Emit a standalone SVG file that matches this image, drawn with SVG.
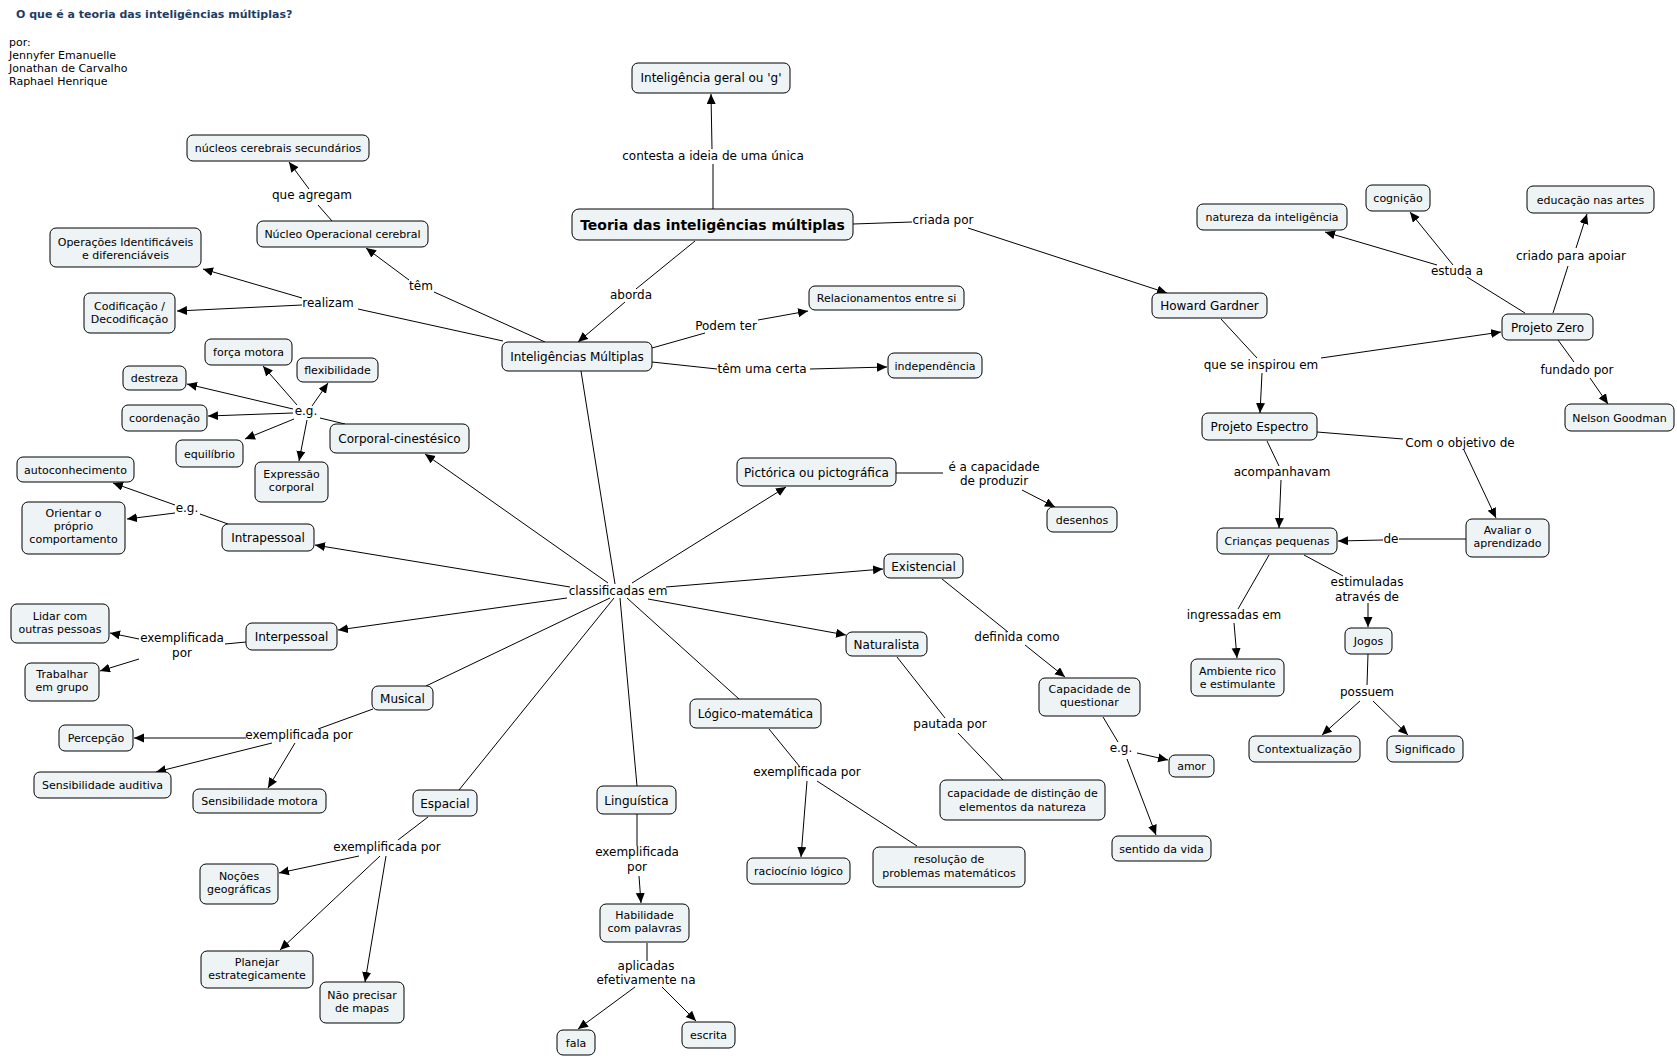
<svg xmlns="http://www.w3.org/2000/svg" width="1677" height="1057" viewBox="0 0 1677 1057">
<style>
  text { font-family: "DejaVu Sans", Verdana, sans-serif; fill: #000; }
  .n rect { fill: #eef3f5; stroke: #000; stroke-width: 1; }
  .n text { text-anchor: middle; }
  .s11 { font-size: 11px; }
  .s12 { font-size: 12px; }
  .lbl { font-size: 12px; text-anchor: middle; }
  #links line { stroke: #000; stroke-width: 1; fill: none; }
  #links line.a { marker-end: url(#arr); }
</style>
<defs>
  <marker id="arr" markerUnits="userSpaceOnUse" markerWidth="11" markerHeight="10" refX="10" refY="4.5" orient="auto">
    <path d="M0,0 L10,4.5 L0,9 z" fill="#000"/>
  </marker>
</defs>
<rect x="0" y="0" width="1677" height="1057" fill="#fff"/>

<g id="header">
  <text x="16" y="18" style="font-size:11px;font-weight:bold;fill:#1f3d63">O que é a teoria das inteligências múltiplas?</text>
  <text x="9" y="46" class="s11">por:</text>
  <text x="9" y="59" class="s11">Jennyfer Emanuelle</text>
  <text x="9" y="72" class="s11">Jonathan de Carvalho</text>
  <text x="9" y="85" class="s11">Raphael Henrique</text>
</g>

<g id="links">
  <!-- Teoria -->
  <line x1="713" y1="209" x2="713" y2="164"/>
  <line class="a" x1="712" y1="149" x2="711" y2="94"/>
  <line x1="853" y1="224" x2="912" y2="222"/>
  <line class="a" x1="968" y1="228" x2="1167" y2="293"/>
  <line x1="695" y1="241" x2="636" y2="289"/>
  <line class="a" x1="625" y1="302" x2="578" y2="342"/>
  <!-- IM -->
  <line x1="652" y1="348" x2="705" y2="333"/>
  <line class="a" x1="758" y1="320" x2="808" y2="311"/>
  <line x1="652" y1="362" x2="717" y2="369"/>
  <line class="a" x1="810" y1="369" x2="887" y2="367"/>
  <line x1="545" y1="342" x2="434" y2="292"/>
  <line class="a" x1="409" y1="280" x2="366" y2="248"/>
  <line x1="503" y1="341" x2="358" y2="309"/>
  <line class="a" x1="302" y1="298" x2="203" y2="269"/>
  <line class="a" x1="302" y1="305" x2="177" y2="311"/>
  <line x1="332" y1="221" x2="318" y2="205"/>
  <line class="a" x1="309" y1="189" x2="289" y2="162"/>
  <!-- classificadas em -->
  <line x1="581" y1="371" x2="615" y2="584"/>
  <line class="a" x1="608" y1="583" x2="425" y2="454"/>
  <line class="a" x1="570" y1="587" x2="315" y2="545"/>
  <line class="a" x1="567" y1="598" x2="338" y2="630"/>
  <line x1="610" y1="598" x2="426" y2="686"/>
  <line x1="614" y1="598" x2="459" y2="790"/>
  <line x1="620" y1="598" x2="637" y2="786"/>
  <line x1="627" y1="598" x2="739" y2="699"/>
  <line class="a" x1="648" y1="599" x2="846" y2="635"/>
  <line class="a" x1="666" y1="587" x2="883" y2="569"/>
  <line class="a" x1="632" y1="583" x2="786" y2="487"/>
  <!-- Corporal e.g. -->
  <line x1="345" y1="424" x2="320" y2="418"/>
  <line class="a" x1="297" y1="405" x2="263" y2="366"/>
  <line class="a" x1="312" y1="406" x2="328" y2="383"/>
  <line class="a" x1="293" y1="409" x2="187" y2="384"/>
  <line class="a" x1="293" y1="413" x2="208" y2="416"/>
  <line class="a" x1="294" y1="419" x2="245" y2="439"/>
  <line class="a" x1="307" y1="420" x2="299" y2="461"/>
  <!-- Intrapessoal -->
  <line x1="228" y1="524" x2="200" y2="514"/>
  <line class="a" x1="175" y1="505" x2="113" y2="483"/>
  <line class="a" x1="175" y1="513" x2="127" y2="519"/>
  <!-- Interpessoal -->
  <line x1="246" y1="642" x2="225" y2="644"/>
  <line class="a" x1="139" y1="639" x2="110" y2="633"/>
  <line class="a" x1="139" y1="659" x2="100" y2="671"/>
  <!-- Musical -->
  <line x1="373" y1="709" x2="318" y2="729"/>
  <line class="a" x1="246" y1="738" x2="134" y2="738"/>
  <line class="a" x1="272" y1="743" x2="156" y2="772"/>
  <line class="a" x1="295" y1="743" x2="268" y2="788"/>
  <!-- Espacial -->
  <line x1="428" y1="817" x2="398" y2="840"/>
  <line class="a" x1="359" y1="856" x2="279" y2="873"/>
  <line class="a" x1="380" y1="856" x2="280" y2="950"/>
  <line class="a" x1="386" y1="856" x2="365" y2="982"/>
  <!-- Linguistica -->
  <line x1="637" y1="814" x2="637" y2="846"/>
  <line class="a" x1="639" y1="876" x2="641" y2="903"/>
  <line x1="647" y1="943" x2="647" y2="961"/>
  <line class="a" x1="635" y1="987" x2="578" y2="1029"/>
  <line class="a" x1="662" y1="987" x2="696" y2="1021"/>
  <!-- Logico -->
  <line x1="769" y1="729" x2="800" y2="767"/>
  <line class="a" x1="807" y1="781" x2="801" y2="857"/>
  <line x1="817" y1="781" x2="917" y2="846"/>
  <!-- Naturalista -->
  <line x1="897" y1="657" x2="945" y2="718"/>
  <line x1="958" y1="733" x2="1003" y2="780"/>
  <!-- Existencial -->
  <line x1="942" y1="579" x2="1008" y2="632"/>
  <line class="a" x1="1025" y1="645" x2="1065" y2="677"/>
  <line x1="1103" y1="717" x2="1118" y2="742"/>
  <line class="a" x1="1137" y1="753" x2="1168" y2="760"/>
  <line class="a" x1="1127" y1="759" x2="1156" y2="835"/>
  <!-- Pictorica -->
  <line x1="896" y1="473" x2="943" y2="473"/>
  <line class="a" x1="1022" y1="490" x2="1055" y2="507"/>
  <!-- Howard Gardner -->
  <line x1="1221" y1="319" x2="1257" y2="358"/>
  <line class="a" x1="1321" y1="358" x2="1501" y2="332"/>
  <line class="a" x1="1262" y1="373" x2="1260" y2="413"/>
  <!-- Projeto Zero -->
  <line x1="1525" y1="313" x2="1467" y2="277"/>
  <line class="a" x1="1437" y1="265" x2="1325" y2="232"/>
  <line class="a" x1="1453" y1="265" x2="1410" y2="212"/>
  <line x1="1553" y1="313" x2="1568" y2="266"/>
  <line class="a" x1="1576" y1="248" x2="1587" y2="214"/>
  <line x1="1558" y1="340" x2="1574" y2="362"/>
  <line class="a" x1="1590" y1="378" x2="1608" y2="404"/>
  <!-- Projeto Espectro -->
  <line x1="1267" y1="441" x2="1279" y2="466"/>
  <line class="a" x1="1281" y1="480" x2="1279" y2="528"/>
  <line x1="1317" y1="432" x2="1403" y2="439"/>
  <line class="a" x1="1464" y1="450" x2="1496" y2="518"/>
  <line x1="1466" y1="539" x2="1399" y2="539"/>
  <line class="a" x1="1383" y1="540" x2="1338" y2="541"/>
  <line x1="1269" y1="555" x2="1238" y2="609"/>
  <line class="a" x1="1234" y1="623" x2="1237" y2="658"/>
  <line x1="1304" y1="555" x2="1343" y2="576"/>
  <line class="a" x1="1368" y1="603" x2="1368" y2="627"/>
  <line x1="1368" y1="654" x2="1367" y2="685"/>
  <line class="a" x1="1360" y1="701" x2="1322" y2="735"/>
  <line class="a" x1="1373" y1="701" x2="1408" y2="735"/>
</g>

<g id="labels">
  <text class="lbl" x="713" y="160">contesta a ideia de uma única</text>
  <text class="lbl" x="943" y="224">criada por</text>
  <text class="lbl" x="631" y="299">aborda</text>
  <text class="lbl" x="726" y="330">Podem ter</text>
  <text class="lbl" x="762" y="373">têm uma certa</text>
  <text class="lbl" x="421" y="290">têm</text>
  <text class="lbl" x="328" y="307">realizam</text>
  <text class="lbl" x="312" y="199">que agregam</text>
  <text class="lbl" x="618" y="595">classificadas em</text>
  <text class="lbl" x="306" y="415">e.g.</text>
  <text class="lbl" x="187" y="512">e.g.</text>
  <text class="lbl" x="182" y="642">exemplificada<tspan x="182" dy="15">por</tspan></text>
  <text class="lbl" x="299" y="739">exemplificada por</text>
  <text class="lbl" x="387" y="851">exemplificada por</text>
  <text class="lbl" x="637" y="856">exemplificada<tspan x="637" dy="15">por</tspan></text>
  <text class="lbl" x="646" y="970">aplicadas<tspan x="646" dy="14">efetivamente na</tspan></text>
  <text class="lbl" x="807" y="776">exemplificada por</text>
  <text class="lbl" x="950" y="728">pautada por</text>
  <text class="lbl" x="1017" y="641">definida como</text>
  <text class="lbl" x="1121" y="752">e.g.</text>
  <text class="lbl" x="994" y="471">é a capacidade<tspan x="994" dy="14">de produzir</tspan></text>
  <text class="lbl" x="1261" y="369">que se inspirou em</text>
  <text class="lbl" x="1457" y="275">estuda a</text>
  <text class="lbl" x="1571" y="260">criado para apoiar</text>
  <text class="lbl" x="1577" y="374">fundado por</text>
  <text class="lbl" x="1282" y="476">acompanhavam</text>
  <text class="lbl" x="1460" y="447">Com o objetivo de</text>
  <text class="lbl" x="1391" y="543">de</text>
  <text class="lbl" x="1234" y="619">ingressadas em</text>
  <text class="lbl" x="1367" y="586">estimuladas<tspan x="1367" dy="15">através de</tspan></text>
  <text class="lbl" x="1367" y="696">possuem</text>
</g>

<g id="inteligencia-g" class="n"><rect x="632" y="63" width="158" height="30" rx="6"/><text class="s12" x="711" y="82">Inteligência geral ou 'g'</text></g>
<g id="teoria" class="n"><rect x="572" y="209" width="281" height="31" rx="7"/><text x="712.5" y="229.5" style="font-size:14px;font-weight:bold">Teoria das inteligências múltiplas</text></g>
<g id="nucleos" class="n"><rect x="187" y="135" width="182" height="26" rx="6"/><text class="s11" x="278" y="152">núcleos cerebrais secundários</text></g>
<g id="nucleo-op" class="n"><rect x="257" y="221" width="171" height="26" rx="6"/><text class="s11" x="342.5" y="238">Núcleo Operacional cerebral</text></g>
<g id="operacoes" class="n"><rect x="50" y="228" width="151" height="39" rx="6"/><text class="s11" x="125.5" y="246">Operações Identificáveis<tspan x="125.5" dy="13">e diferenciáveis</tspan></text></g>
<g id="codificacao" class="n"><rect x="84" y="293" width="91" height="40" rx="6"/><text class="s11" x="129.5" y="310">Codificação /<tspan x="129.5" dy="13">Decodificação</tspan></text></g>
<g id="im" class="n"><rect x="502" y="342" width="150" height="29" rx="6"/><text class="s12" x="577" y="360.5">Inteligências Múltiplas</text></g>
<g id="relacionamentos" class="n"><rect x="809" y="286" width="155" height="24" rx="6"/><text class="s11" x="886.5" y="302">Relacionamentos entre si</text></g>
<g id="independencia" class="n"><rect x="888" y="353" width="94" height="25" rx="6"/><text class="s11" x="935" y="369.5">independência</text></g>
<g id="howard" class="n"><rect x="1152" y="293" width="115" height="25" rx="6"/><text class="s12" x="1209.5" y="310">Howard Gardner</text></g>
<g id="natureza" class="n"><rect x="1197" y="204" width="150" height="26" rx="6"/><text class="s11" x="1272" y="221">natureza da inteligência</text></g>
<g id="cognicao" class="n"><rect x="1366" y="185" width="64" height="26" rx="6"/><text class="s11" x="1398" y="202">cognição</text></g>
<g id="educacao" class="n"><rect x="1527" y="186" width="127" height="27" rx="6"/><text class="s11" x="1590.5" y="203.5">educação nas artes</text></g>
<g id="projeto-zero" class="n"><rect x="1502" y="314" width="91" height="26" rx="6"/><text class="s12" x="1547.5" y="331.5">Projeto Zero</text></g>
<g id="nelson" class="n"><rect x="1565" y="404" width="109" height="27" rx="6"/><text class="s11" x="1619.5" y="421.5">Nelson Goodman</text></g>
<g id="espectro" class="n"><rect x="1202" y="413" width="115" height="27" rx="6"/><text class="s12" x="1259.5" y="431">Projeto Espectro</text></g>
<g id="criancas" class="n"><rect x="1217" y="528" width="120" height="26" rx="6"/><text class="s11" x="1277" y="545">Crianças pequenas</text></g>
<g id="avaliar" class="n"><rect x="1466" y="519" width="83" height="38" rx="6"/><text class="s11" x="1507.5" y="534">Avaliar o<tspan x="1507.5" dy="13">aprendizado</tspan></text></g>
<g id="jogos" class="n"><rect x="1345" y="628" width="47" height="26" rx="6"/><text class="s11" x="1368.5" y="645">Jogos</text></g>
<g id="ambiente" class="n"><rect x="1191" y="659" width="93" height="37" rx="6"/><text class="s11" x="1237.5" y="675">Ambiente rico<tspan x="1237.5" dy="13">e estimulante</tspan></text></g>
<g id="contextualizacao" class="n"><rect x="1249" y="736" width="111" height="26" rx="6"/><text class="s11" x="1304.5" y="753">Contextualização</text></g>
<g id="significado" class="n"><rect x="1387" y="736" width="76" height="26" rx="6"/><text class="s11" x="1425" y="753">Significado</text></g>
<g id="pictorica" class="n"><rect x="737" y="458" width="159" height="28" rx="6"/><text class="s12" x="816.5" y="476.5">Pictórica ou pictográfica</text></g>
<g id="desenhos" class="n"><rect x="1047" y="507" width="70" height="25" rx="6"/><text class="s11" x="1082" y="523.5">desenhos</text></g>
<g id="existencial" class="n"><rect x="884" y="554" width="79" height="24" rx="6"/><text class="s12" x="923.5" y="570.5">Existencial</text></g>
<g id="naturalista" class="n"><rect x="846" y="632" width="81" height="24" rx="6"/><text class="s12" x="886.5" y="648.5">Naturalista</text></g>
<g id="capacidade-q" class="n"><rect x="1039" y="678" width="101" height="38" rx="6"/><text class="s11" x="1089.5" y="693">Capacidade de<tspan x="1089.5" dy="13">questionar</tspan></text></g>
<g id="amor" class="n"><rect x="1169" y="755" width="45" height="22" rx="6"/><text class="s11" x="1191.5" y="770">amor</text></g>
<g id="sentido" class="n"><rect x="1112" y="836" width="99" height="25" rx="6"/><text class="s11" x="1161.5" y="852.5">sentido da vida</text></g>
<g id="distincao" class="n"><rect x="940" y="780" width="165" height="40" rx="6"/><text class="s11" x="1022.5" y="797">capacidade de distinção de<tspan x="1022.5" dy="14">elementos da natureza</tspan></text></g>
<g id="logico" class="n"><rect x="690" y="699" width="131" height="29" rx="6"/><text class="s12" x="755.5" y="717.5">Lógico-matemática</text></g>
<g id="raciocinio" class="n"><rect x="747" y="858" width="103" height="26" rx="6"/><text class="s11" x="798.5" y="875">raciocínio lógico</text></g>
<g id="resolucao" class="n"><rect x="873" y="847" width="152" height="40" rx="6"/><text class="s11" x="949" y="863">resolução de<tspan x="949" dy="14">problemas matemáticos</tspan></text></g>
<g id="linguistica" class="n"><rect x="597" y="786" width="79" height="28" rx="6"/><text class="s12" x="636.5" y="804.5">Linguística</text></g>
<g id="habilidade" class="n"><rect x="600" y="904" width="89" height="38" rx="6"/><text class="s11" x="644.5" y="919">Habilidade<tspan x="644.5" dy="13">com palavras</tspan></text></g>
<g id="fala" class="n"><rect x="557" y="1030" width="38" height="25" rx="6"/><text class="s11" x="576" y="1046.5">fala</text></g>
<g id="escrita" class="n"><rect x="682" y="1022" width="53" height="26" rx="6"/><text class="s11" x="708.5" y="1039">escrita</text></g>
<g id="corporal" class="n"><rect x="330" y="424" width="139" height="29" rx="6"/><text class="s12" x="399.5" y="443">Corporal-cinestésico</text></g>
<g id="forca" class="n"><rect x="205" y="339" width="87" height="26" rx="6"/><text class="s11" x="248.5" y="356">força motora</text></g>
<g id="flexibilidade" class="n"><rect x="297" y="358" width="81" height="24" rx="6"/><text class="s11" x="337.5" y="374">flexibilidade</text></g>
<g id="destreza" class="n"><rect x="123" y="366" width="63" height="24" rx="6"/><text class="s11" x="154.5" y="382">destreza</text></g>
<g id="coordenacao" class="n"><rect x="122" y="405" width="85" height="26" rx="6"/><text class="s11" x="164.5" y="422">coordenação</text></g>
<g id="equilibrio" class="n"><rect x="176" y="440" width="67" height="27" rx="6"/><text class="s11" x="209.5" y="457.5">equilíbrio</text></g>
<g id="expressao" class="n"><rect x="255" y="462" width="73" height="40" rx="6"/><text class="s11" x="291.5" y="478">Expressão<tspan x="291.5" dy="13">corporal</tspan></text></g>
<g id="autoconhecimento" class="n"><rect x="17" y="457" width="117" height="25" rx="6"/><text class="s11" x="75.5" y="473.5">autoconhecimento</text></g>
<g id="orientar" class="n"><rect x="22" y="502" width="103" height="52" rx="6"/><text class="s11" x="73.5" y="517">Orientar o<tspan x="73.5" dy="13">próprio</tspan><tspan x="73.5" dy="13">comportamento</tspan></text></g>
<g id="intrapessoal" class="n"><rect x="222" y="524" width="92" height="27" rx="6"/><text class="s12" x="268" y="542">Intrapessoal</text></g>
<g id="lidar" class="n"><rect x="11" y="604" width="98" height="39" rx="6"/><text class="s11" x="60" y="620">Lidar com<tspan x="60" dy="13">outras pessoas</tspan></text></g>
<g id="interpessoal" class="n"><rect x="246" y="623" width="91" height="27" rx="6"/><text class="s12" x="291.5" y="641">Interpessoal</text></g>
<g id="trabalhar" class="n"><rect x="25" y="663" width="74" height="38" rx="6"/><text class="s11" x="62" y="678">Trabalhar<tspan x="62" dy="13">em grupo</tspan></text></g>
<g id="musical" class="n"><rect x="372" y="686" width="61" height="24" rx="6"/><text class="s12" x="402.5" y="702.5">Musical</text></g>
<g id="percepcao" class="n"><rect x="59" y="725" width="74" height="26" rx="6"/><text class="s11" x="96" y="742">Percepção</text></g>
<g id="sens-auditiva" class="n"><rect x="34" y="772" width="137" height="26" rx="6"/><text class="s11" x="102.5" y="789">Sensibilidade auditiva</text></g>
<g id="sens-motora" class="n"><rect x="193" y="789" width="133" height="24" rx="6"/><text class="s11" x="259.5" y="805">Sensibilidade motora</text></g>
<g id="espacial" class="n"><rect x="413" y="790" width="64" height="26" rx="6"/><text class="s12" x="445" y="807.5">Espacial</text></g>
<g id="nocoes" class="n"><rect x="200" y="864" width="78" height="40" rx="6"/><text class="s11" x="239" y="880">Noções<tspan x="239" dy="13">geográficas</tspan></text></g>
<g id="planejar" class="n"><rect x="201" y="951" width="112" height="37" rx="6"/><text class="s11" x="257" y="966">Planejar<tspan x="257" dy="13">estrategicamente</tspan></text></g>
<g id="nao-precisar" class="n"><rect x="320" y="982" width="84" height="41" rx="6"/><text class="s11" x="362" y="999">Não precisar<tspan x="362" dy="13">de mapas</tspan></text></g>
</svg>
